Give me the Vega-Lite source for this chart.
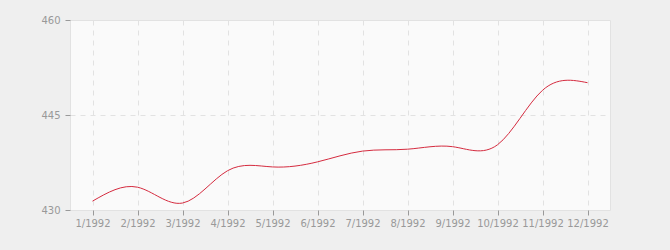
{
  "$schema": "https://vega.github.io/schema/vega-lite/v6.json",
  "width": 540,
  "height": 190,
  "autosize": {"type": "none"},
  "padding": {"left": 70, "top": 20, "right": 60, "bottom": 40},
  "background": "#efefef",
  "view": {"fill": "#fafafa", "stroke": "#e2e2e2", "strokeWidth": 1},
  "data": {
    "values": [
      {"month": "1/1992", "value": 431.4},
      {"month": "2/1992", "value": 433.6},
      {"month": "3/1992", "value": 431.1},
      {"month": "4/1992", "value": 436.2},
      {"month": "5/1992", "value": 436.8},
      {"month": "6/1992", "value": 437.6},
      {"month": "7/1992", "value": 439.3},
      {"month": "8/1992", "value": 439.6},
      {"month": "9/1992", "value": 440.0},
      {"month": "10/1992", "value": 440.3},
      {"month": "11/1992", "value": 448.9},
      {"month": "12/1992", "value": 450.1}
    ]
  },
  "mark": {"type": "line", "interpolate": "natural", "color": "#d52b3f", "strokeWidth": 1},
  "encoding": {
    "x": {
      "field": "month",
      "type": "ordinal",
      "sort": null,
      "scale": {"type": "point", "padding": 0.5},
      "axis": {
        "title": null,
        "labelAngle": 0,
        "domain": false,
        "tickSize": 5,
        "tickColor": "#999999",
        "labelColor": "#999999",
        "labelFont": "DejaVu Sans",
        "labelFontSize": 10,
        "labelPadding": 3,
        "grid": true,
        "gridColor": "#e2e2e2",
        "gridDash": [5, 5]
      }
    },
    "y": {
      "field": "value",
      "type": "quantitative",
      "scale": {"domain": [430, 460], "nice": false, "zero": false},
      "axis": {
        "title": null,
        "values": [430, 445, 460],
        "domain": false,
        "tickSize": 5,
        "tickColor": "#999999",
        "labelColor": "#999999",
        "labelFont": "DejaVu Sans",
        "labelFontSize": 10,
        "labelPadding": 5,
        "grid": true,
        "gridColor": "#e2e2e2",
        "gridDash": [5, 5]
      }
    }
  }
}
